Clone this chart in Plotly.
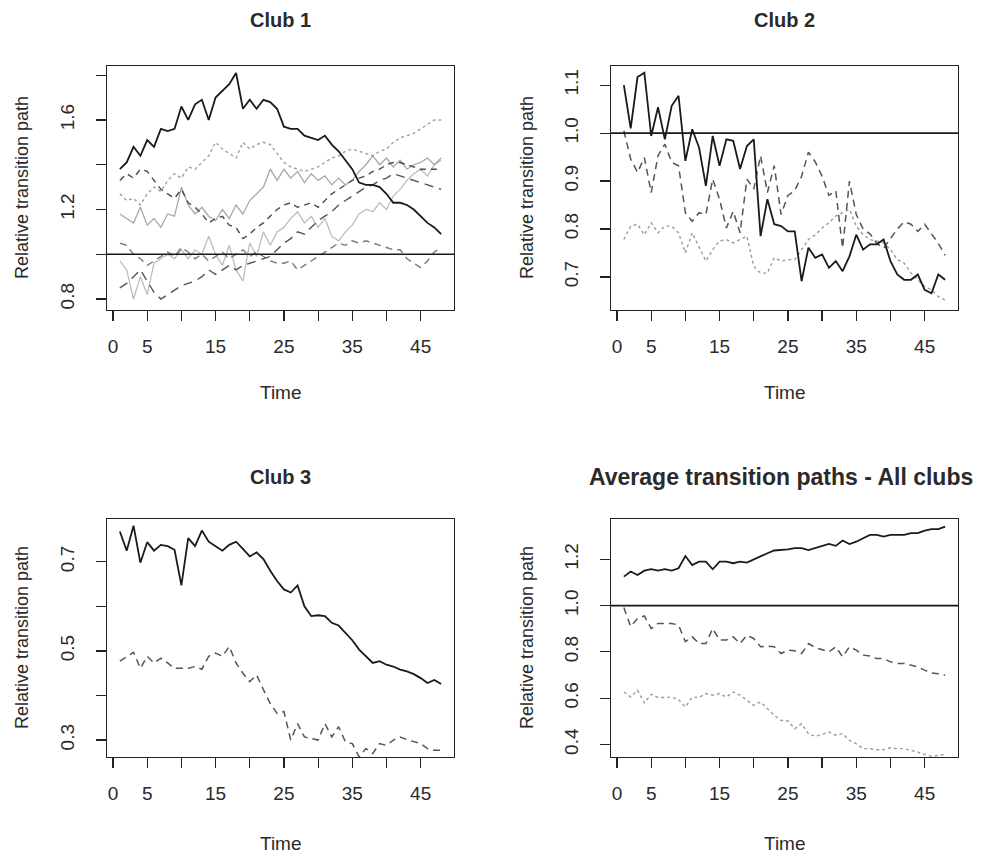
import plotly.graph_objects as go

# ---------------- data ----------------
time = list(range(1, 49))

x_tickvals = [0, 5, 10, 15, 20, 25, 30, 35, 40, 45]
x_ticktext = ["0", "5", "", "15", "", "25", "", "35", "", "45"]

y1_tickvals = [0.8, 1.0, 1.2, 1.4, 1.6, 1.8]
y1_ticktext = ["0.8", "", "1.2", "", "1.6", ""]
y2_tickvals = [0.7, 0.8, 0.9, 1.0, 1.1]
y2_ticktext = ["0.7", "0.8", "0.9", "1.0", "1.1"]
y3_tickvals = [0.3, 0.4, 0.5, 0.6, 0.7]
y3_ticktext = ["0.3", "", "0.5", "", "0.7"]
y4_tickvals = [0.4, 0.6, 0.8, 1.0, 1.2]
y4_ticktext = ["0.4", "0.6", "0.8", "1.0", "1.2"]

titles = ["Club 1", "Club 2", "Club 3", "Average transition paths - All clubs"]
y_label = "Relative transition path"
x_label = "Time"

# Club 1
club1_a = [1.38, 1.41, 1.48, 1.44, 1.51, 1.48, 1.56, 1.55, 1.56, 1.66, 1.60, 1.67, 1.69, 1.60, 1.70, 1.73,
           1.76, 1.81, 1.65, 1.69, 1.65, 1.69, 1.68, 1.65, 1.57, 1.56, 1.56, 1.53, 1.52, 1.51, 1.53, 1.49,
           1.46, 1.42, 1.38, 1.32, 1.31, 1.31, 1.30, 1.27, 1.23, 1.23, 1.22, 1.20, 1.17, 1.14, 1.12, 1.09]
club1_b = [1.33, 1.36, 1.34, 1.38, 1.37, 1.33, 1.29, 1.27, 1.25, 1.29, 1.23, 1.21, 1.18, 1.14, 1.16, 1.17,
           1.13, 1.12, 1.07, 1.09, 1.12, 1.14, 1.17, 1.20, 1.22, 1.23, 1.21, 1.22, 1.23, 1.21, 1.24, 1.27,
           1.29, 1.31, 1.33, 1.34, 1.35, 1.37, 1.38, 1.40, 1.41, 1.41, 1.40, 1.39, 1.38, 1.38, 1.38, 1.38]
club1_c = [0.85, 0.87, 0.90, 0.93, 0.88, 0.83, 0.80, 0.82, 0.84, 0.86, 0.87, 0.88, 0.90, 0.93, 0.91, 0.93,
           0.95, 0.93, 0.95, 0.96, 0.97, 0.98, 0.99, 1.02, 1.05, 1.07, 1.10, 1.09, 1.12, 1.15, 1.17, 1.19,
           1.22, 1.24, 1.26, 1.28, 1.30, 1.31, 1.33, 1.34, 1.36, 1.35, 1.34, 1.33, 1.32, 1.31, 1.30, 1.29]
club1_d = [1.05, 1.04, 1.00, 0.98, 0.95, 0.97, 0.99, 1.01, 0.99, 1.03, 1.01, 0.98, 1.00, 0.97, 0.99, 1.01,
           0.98, 1.00, 1.02, 0.99, 1.01, 0.99, 0.97, 0.96, 0.96, 0.97, 0.93, 0.95, 0.97, 0.99, 1.01, 1.03,
           1.05, 1.04, 1.06, 1.05, 1.06, 1.05, 1.04, 1.03, 1.02, 1.02, 0.98, 0.96, 0.94, 0.97, 1.01, 1.03]
club1_e = [1.18, 1.16, 1.14, 1.21, 1.13, 1.16, 1.12, 1.18, 1.17, 1.30, 1.22, 1.18, 1.21, 1.17, 1.15, 1.20,
           1.16, 1.22, 1.18, 1.24, 1.27, 1.30, 1.38, 1.33, 1.38, 1.34, 1.37, 1.32, 1.36, 1.33, 1.35, 1.31,
           1.34, 1.31, 1.33, 1.37, 1.40, 1.44, 1.40, 1.43, 1.39, 1.42, 1.38, 1.40, 1.41, 1.43, 1.40, 1.43]
club1_f = [0.97, 0.93, 0.80, 0.90, 0.82, 0.96, 0.98, 1.00, 0.98, 1.02, 0.98, 1.02, 1.00, 1.08, 1.00, 0.95,
           1.04, 0.93, 0.88, 1.05, 0.99, 1.10, 1.04, 1.10, 1.12, 1.16, 1.19, 1.14, 1.17, 1.12, 1.16, 1.08,
           1.06, 1.10, 1.13, 1.18, 1.20, 1.19, 1.23, 1.20, 1.26, 1.29, 1.33, 1.36, 1.38, 1.35, 1.40, 1.42]
club1_g = [1.27, 1.24, 1.25, 1.22, 1.27, 1.30, 1.28, 1.33, 1.36, 1.34, 1.39, 1.38, 1.41, 1.44, 1.50, 1.47,
           1.45, 1.43, 1.50, 1.47, 1.49, 1.50, 1.49, 1.45, 1.41, 1.39, 1.38, 1.37, 1.38, 1.39, 1.41, 1.43,
           1.44, 1.46, 1.47, 1.46, 1.45, 1.44, 1.46, 1.47, 1.50, 1.52, 1.53, 1.54, 1.56, 1.58, 1.60, 1.60]

# Club 2
club2_a = [1.10, 1.01, 1.117, 1.126, 0.994, 1.054, 0.987, 1.057, 1.078, 0.942, 1.008, 0.97, 0.89, 0.994, 0.932, 0.987,
           0.984, 0.925, 0.973, 0.987, 0.785, 0.862, 0.81, 0.806, 0.795, 0.795, 0.691, 0.761, 0.74, 0.747, 0.719, 0.733,
           0.712, 0.743, 0.788, 0.757, 0.768, 0.768, 0.778, 0.733, 0.705, 0.694, 0.694, 0.705, 0.673, 0.666, 0.705, 0.694]
club2_b = [1.005, 0.946, 0.918, 0.949, 0.876, 0.953, 0.977, 0.939, 0.932, 0.834, 0.816, 0.834, 0.83, 0.904, 0.862, 0.802,
           0.837, 0.792, 0.904, 0.883, 0.953, 0.876, 0.932, 0.83, 0.87, 0.88, 0.91, 0.96, 0.94, 0.91, 0.87, 0.88,
           0.76, 0.90, 0.83, 0.80, 0.79, 0.77, 0.76, 0.78, 0.80, 0.815, 0.81, 0.795, 0.81, 0.79, 0.77, 0.745]
club2_c = [0.778, 0.806, 0.81, 0.788, 0.813, 0.792, 0.806, 0.806, 0.792, 0.75, 0.792, 0.764, 0.733, 0.757, 0.775, 0.778,
           0.771, 0.778, 0.785, 0.722, 0.708, 0.708, 0.74, 0.733, 0.736, 0.736, 0.757, 0.778, 0.788, 0.802, 0.813, 0.827,
           0.834, 0.841, 0.806, 0.788, 0.778, 0.775, 0.771, 0.757, 0.736, 0.729, 0.708, 0.694, 0.68, 0.673, 0.659, 0.652]

# Club 3
club3_a = [0.768, 0.725, 0.781, 0.698, 0.744, 0.725, 0.738, 0.735, 0.727, 0.647, 0.753, 0.735, 0.77, 0.745, 0.735, 0.725,
           0.738, 0.745, 0.729, 0.712, 0.721, 0.706, 0.68, 0.657, 0.638, 0.631, 0.647, 0.60, 0.578, 0.58, 0.578, 0.563,
           0.557, 0.54, 0.524, 0.503, 0.488, 0.473, 0.477, 0.469, 0.465, 0.458, 0.454, 0.448, 0.439, 0.428, 0.435, 0.426]
club3_b = [0.477, 0.488, 0.497, 0.461, 0.488, 0.473, 0.484, 0.473, 0.461, 0.461, 0.461, 0.465, 0.459, 0.488, 0.495, 0.488,
           0.51, 0.473, 0.45, 0.431, 0.446, 0.413, 0.382, 0.36, 0.364, 0.30, 0.337, 0.307, 0.303, 0.30, 0.337, 0.307,
           0.33, 0.296, 0.292, 0.262, 0.281, 0.27, 0.292, 0.288, 0.30, 0.307, 0.301, 0.296, 0.292, 0.281, 0.277, 0.277]

# Average - all clubs
avg_a = [1.125, 1.147, 1.132, 1.151, 1.157, 1.151, 1.157, 1.151, 1.161, 1.214, 1.175, 1.19, 1.19, 1.157, 1.19, 1.19,
         1.183, 1.19, 1.186, 1.20, 1.212, 1.226, 1.238, 1.24, 1.243, 1.248, 1.248, 1.24, 1.248, 1.255, 1.266, 1.258,
         1.281, 1.266, 1.276, 1.291, 1.305, 1.305, 1.298, 1.305, 1.305, 1.305, 1.313, 1.313, 1.324, 1.33, 1.33, 1.341]
avg_b = [0.992, 0.909, 0.945, 0.955, 0.901, 0.923, 0.923, 0.923, 0.916, 0.844, 0.865, 0.836, 0.836, 0.901, 0.851, 0.851,
         0.865, 0.836, 0.872, 0.858, 0.822, 0.825, 0.822, 0.793, 0.808, 0.805, 0.793, 0.836, 0.819, 0.81, 0.80, 0.822,
         0.779, 0.822, 0.808, 0.786, 0.782, 0.771, 0.771, 0.757, 0.75, 0.75, 0.743, 0.735, 0.721, 0.709, 0.706, 0.699]
avg_c = [0.627, 0.605, 0.634, 0.58, 0.617, 0.603, 0.603, 0.605, 0.594, 0.562, 0.605, 0.603, 0.62, 0.613, 0.62, 0.605,
         0.627, 0.613, 0.591, 0.569, 0.584, 0.555, 0.526, 0.504, 0.502, 0.468, 0.49, 0.447, 0.435, 0.444, 0.454, 0.44,
         0.447, 0.418, 0.403, 0.382, 0.382, 0.377, 0.377, 0.386, 0.382, 0.382, 0.375, 0.367, 0.357, 0.349, 0.353, 0.357]

# ---------------- figure ----------------
FONT = "Liberation Sans, Arial, Helvetica, sans-serif"
TXT = "#2a2a2a"

fig = go.Figure()

def add(series, axis, color, dash, width):
    fig.add_trace(go.Scatter(
        x=time, y=series, mode="lines",
        xaxis="x" + axis, yaxis="y" + axis,
        line=dict(color=color, dash=dash, width=width),
        showlegend=False, hoverinfo="skip"))

# club 1
add(club1_f, "", "#bdbdbd", "solid", 1.3)
add(club1_e, "", "#a8a8a8", "solid", 1.3)
add(club1_g, "", "#a0a0a0", "3px,3px", 1.4)
add(club1_d, "", "#7a7a7a", "7px,5px", 1.4)
add(club1_c, "", "#555555", "9px,6px", 1.4)
add(club1_b, "", "#4a4a4a", "6px,5px", 1.4)
add(club1_a, "", "#1a1a1a", "solid", 1.8)
# club 2
add(club2_c, "2", "#9a9a9a", "3px,3px", 1.4)
add(club2_b, "2", "#555555", "7px,5px", 1.5)
add(club2_a, "2", "#1a1a1a", "solid", 1.8)
# club 3
add(club3_b, "3", "#555555", "7px,5px", 1.5)
add(club3_a, "3", "#1a1a1a", "solid", 1.8)
# average
add(avg_c, "4", "#9a9a9a", "3px,3px", 1.4)
add(avg_b, "4", "#555555", "7px,5px", 1.5)
add(avg_a, "4", "#1a1a1a", "solid", 1.8)

W, H = 993, 855
x_range = [-0.88, 49.88]

def xaxis(dom, anchor):
    return dict(domain=dom, anchor=anchor, range=x_range,
                tickmode="array", tickvals=x_tickvals, ticktext=x_ticktext,
                showline=True, mirror=True, linecolor="#222222", linewidth=1.3,
                ticks="outside", ticklen=10, tickwidth=1.2, tickcolor="#222222",
                showgrid=False, zeroline=False, ticklabelstandoff=9,
                tickfont=dict(family=FONT, size=19, color=TXT))

def yaxis(dom, anchor, rng, tv, tt):
    return dict(domain=dom, anchor=anchor, range=rng,
                tickmode="array", tickvals=tv, ticktext=tt, tickangle=-90,
                showline=True, mirror=True, linecolor="#222222", linewidth=1.3,
                ticks="outside", ticklen=10, tickwidth=1.2, tickcolor="#222222",
                showgrid=False, zeroline=False, ticklabelstandoff=14,
                tickfont=dict(family=FONT, size=19, color=TXT))

def px_x(a, b):
    return [a / W, b / W]

def px_y(top, bottom):
    return [1 - bottom / H, 1 - top / H]

dx1, dx2 = px_x(107, 454), px_x(611, 958)
dy1, dy2 = px_y(66, 310), px_y(519, 757)

fig.update_layout(
    width=W, height=H, autosize=False,
    margin=dict(l=0, r=0, t=0, b=0),
    paper_bgcolor="white", plot_bgcolor="white",
    xaxis=xaxis(dx1, "y"), yaxis=yaxis(dy1, "x", [0.751, 1.841], y1_tickvals, y1_ticktext),
    xaxis2=xaxis(dx2, "y2"), yaxis2=yaxis(dy1, "x2", [0.631, 1.14], y2_tickvals, y2_ticktext),
    xaxis3=xaxis(dx1, "y3"), yaxis3=yaxis(dy2, "x3", [0.262, 0.796], y3_tickvals, y3_ticktext),
    xaxis4=xaxis(dx2, "y4"), yaxis4=yaxis(dy2, "x4", [0.346, 1.374], y4_tickvals, y4_ticktext),
)

# reference line at 1
for ax in ["", "2", "4"]:
    fig.add_shape(type="line", xref=("x" + ax) + " domain", x0=0, x1=1,
                  yref="y" + ax, y0=1, y1=1,
                  line=dict(color="#1a1a1a", width=1.6))

ann = []
centers_x = [sum(dx1) / 2, sum(dx2) / 2]
title_y = [1 - 20 / H, 1 - 477 / H]
time_y = [1 - 392 / H, 1 - 843 / H]
ylab_x = [22 / W, 527 / W]
ylab_y = [1 - 188 / H, 1 - 638 / H]
for i, t in enumerate(titles):
    col, row = i % 2, i // 2
    ann.append(dict(text="<b>" + t + "</b>", x=(781 / W) if i == 3 else centers_x[col], y=title_y[row],
                    xref="paper", yref="paper",
                    showarrow=False, xanchor="center", yanchor="middle",
                    font=dict(family=FONT, size=23 if i == 3 else 20, color=TXT)))
    ann.append(dict(text=x_label, x=centers_x[col], y=time_y[row], xref="paper", yref="paper",
                    showarrow=False, xanchor="center", yanchor="middle",
                    font=dict(family=FONT, size=19, color=TXT)))
    ann.append(dict(text=y_label, x=ylab_x[col], y=ylab_y[row], xref="paper", yref="paper",
                    showarrow=False, xanchor="center", yanchor="middle", textangle=-90,
                    font=dict(family=FONT, size=18, color=TXT)))
fig.update_layout(annotations=ann)

fig.write_html("out.html",
               config={"displayModeBar": False, "staticPlot": True},
               post_script="document.body.style.margin='0';document.body.style.padding='0';"
                           "document.body.style.overflow='hidden';")
